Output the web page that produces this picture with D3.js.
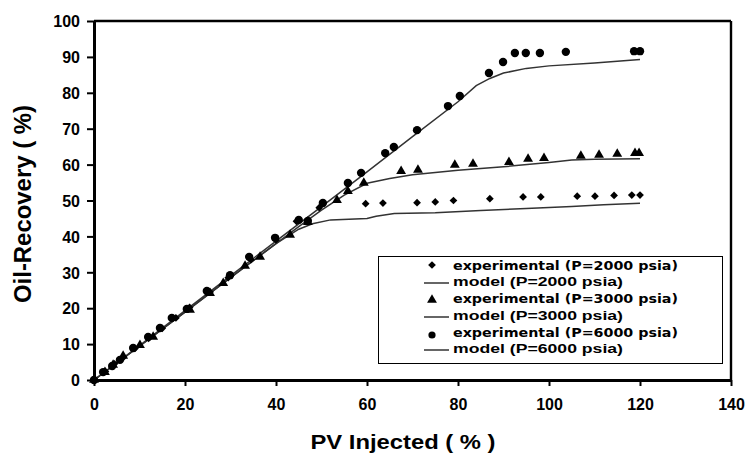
<!DOCTYPE html>
<html><head><meta charset="utf-8">
<script src="https://cdn.jsdelivr.net/npm/d3@7"></script>
<style>body{margin:0;background:#fff}</style>
</head><body>
<svg id="c" width="747" height="455"></svg>
<script>
// ---- data ----
const xTicks = [0,20,40,60,80,100,120,140];
const yTicks = [0,10,20,30,40,50,60,70,80,90,100];

const exp2000 = [[0,0],[2.5,2.4],[4.5,4.5],[6.5,6.4],[9,8.8],[12,11.6],[15,14.4],[18,17.3],[21,20.2],[25.5,24.5],[29.5,28.5],[34.5,33.5],[40,39],[44.5,44.2],[49.5,48],[59.7,49.1],[63.5,49.3],[71,49.4],[75,49.6],[79,50],[87,50.5],[94.3,51],[98.2,51],[106.2,51.2],[110.1,51.2],[114.3,51.4],[118.2,51.5],[120,51.5]];
const exp3000 = [[0,0],[2.4,2.2],[4.2,4.2],[6.4,6.7],[10.1,9.7],[13,12],[21.1,19.5],[25.5,24.2],[28.4,27],[33.2,31.8],[36.5,34.3],[43.1,40.4],[47,44],[53.4,50.1],[55.8,52.6],[59.3,54.9],[67.5,58.2],[71.2,58.5],[79.3,59.9],[83.3,60.2],[91.2,60.7],[95.4,61.6],[98.9,61.8],[107,62.4],[111,62.7],[115,63],[118.9,63.2],[119.8,63.2]];
const exp6000 = [[0,0],[2,2.2],[4,3.9],[5.7,5.6],[8.6,8.9],[11.9,12],[14.5,14.5],[17.1,17.3],[20.4,19.8],[24.8,24.8],[29.9,29.2],[34.1,34.3],[39.8,39.6],[45,44.6],[47,44.3],[50.3,49.3],[55.8,54.9],[58.7,57.7],[64,63.2],[65.9,64.9],[71,69.6],[77.8,76.3],[80.4,79.1],[86.8,85.5],[89.9,88.6],[92.5,91.1],[94.9,91.1],[98,91.1],[103.7,91.4],[118.7,91.6],[120,91.6]];

const model2000 = [[0,0],[10,9.4],[20,18.9],[30,28.5],[40,38],[45,42],[48,43.5],[52,44.6],[60,45],[62,45.6],[66,46.4],[75,46.6],[85,47.2],[95,47.8],[105,48.3],[112,48.8],[120,49.2]];
const model3000 = [[0,0],[10,9.4],[20,18.9],[30,28.5],[40,38],[45,42.7],[50,47.3],[55,51.5],[60,54.8],[65,56.1],[70,57.2],[80,58.4],[90,59.4],[100,60.6],[105,61.3],[110,61.5],[120,61.6]];
const model6000 = [[0,0],[10,9.6],[20,19.3],[30,29],[40,38.7],[50,48.3],[60,58],[70,67.8],[80,77.5],[84,82],[87,84],[90,85.5],[95,86.8],[100,87.5],[110,88.3],[120,89.3]];

const legendLabels = ["experimental (P=2000 psia)","model (P=2000 psia)","experimental (P=3000 psia)","model (P=3000 psia)","experimental (P=6000 psia)","model (P=6000 psia)"];

// ---- chart ----
const svg = d3.select("#c");
const x = d3.scaleLinear().domain([0,140]).range([94,731]);
const y = d3.scaleLinear().domain([0,100]).range([380,21]);
const font = "'Liberation Sans', Arial, sans-serif";

// lines
const line = d3.line().x(d=>x(d[0])).y(d=>y(d[1]));
[model2000, model3000, model6000].forEach(m=>{
  svg.append("path").attr("d", line(m)).attr("fill","none").attr("stroke","#333").attr("stroke-width",1.5);
});

const diamond = d3.symbol().type(d3.symbolSquare).size(30);
const tri = d3.symbol().type(d3.symbolTriangle).size(42);
svg.append("g").selectAll("path").data(exp2000).join("path")
  .attr("d", diamond()).attr("transform", d=>`translate(${x(d[0])},${y(d[1])}) rotate(45)`).attr("fill","#000");
svg.append("g").selectAll("path").data(exp3000).join("path")
  .attr("d", tri()).attr("transform", d=>`translate(${x(d[0])},${y(d[1])})`).attr("fill","#000");
svg.append("g").selectAll("circle").data(exp6000).join("circle")
  .attr("cx", d=>x(d[0])).attr("cy", d=>y(d[1])).attr("r",4.2).attr("fill","#000");

// frame
svg.append("line").attr("x1",94).attr("x2",731).attr("y1",21).attr("y2",21).attr("stroke","#000").attr("stroke-width",2.7);
svg.append("line").attr("x1",731).attr("x2",731).attr("y1",21).attr("y2",380).attr("stroke","#000").attr("stroke-width",2.4);

// axes
const yAxis = svg.append("g").attr("transform","translate(94,0)")
  .call(d3.axisLeft(y).tickValues(yTicks).tickSize(7).tickSizeOuter(0));
const xAxis = svg.append("g").attr("transform","translate(0,380)")
  .call(d3.axisBottom(x).tickValues(xTicks).tickSize(6).tickSizeOuter(0));
[yAxis,xAxis].forEach(a=>{
  a.select(".domain").attr("stroke","#000").attr("stroke-width",3);
  a.selectAll(".tick line").attr("stroke","#000").attr("stroke-width",2);
  a.selectAll("text").attr("font-family",font).attr("font-weight","bold").attr("font-size",16).attr("fill","#000");
});
yAxis.selectAll("text").attr("x",-14).attr("dy","0.36em");
xAxis.selectAll("text").attr("y",24).attr("dy","0.36em");

// titles
svg.append("text").attr("x",403).attr("y",449).attr("text-anchor","middle")
  .attr("font-family",font).attr("font-weight","bold").attr("font-size",20)
  .attr("textLength",185).attr("lengthAdjust","spacingAndGlyphs").text("PV Injected ( % )");
svg.append("text").attr("transform","translate(31,204) rotate(-90)").attr("text-anchor","middle")
  .attr("font-family",font).attr("font-weight","bold").attr("font-size",24)
  .attr("textLength",198).attr("lengthAdjust","spacingAndGlyphs").text("Oil-Recovery ( %)");

// legend
svg.append("rect").attr("x",378.5).attr("y",256.5).attr("width",344).attr("height",107)
  .attr("fill","#fff").attr("stroke","#000").attr("stroke-width",1);
const rowsY = [270,286,303,320,337,353];
const markerY = [265,300,335];
const lineY = [283,317,350];
svg.append("path").attr("d",diamond()).attr("transform",`translate(432,${markerY[0]}) rotate(45)`).attr("fill","#000");
svg.append("path").attr("d",tri()).attr("transform",`translate(432,${markerY[1]})`).attr("fill","#000");
svg.append("circle").attr("cx",432).attr("cy",markerY[2]).attr("r",3.6).attr("fill","#000");
lineY.forEach(ly=>svg.append("line").attr("x1",424).attr("x2",449).attr("y1",ly).attr("y2",ly).attr("stroke","#333").attr("stroke-width",1.5));
legendLabels.forEach((t,i)=>{
  const isExp = i%2===0;
  svg.append("text").attr("x",453).attr("y",rowsY[i])
    .attr("font-family", isExp ? "'DejaVu Sans', Verdana, sans-serif" : font)
    .attr("font-weight","bold").attr("font-size",13)
    .attr("textLength", isExp ? 225 : 170).attr("lengthAdjust","spacingAndGlyphs")
    .text(t);
});
</script>
</body></html>
